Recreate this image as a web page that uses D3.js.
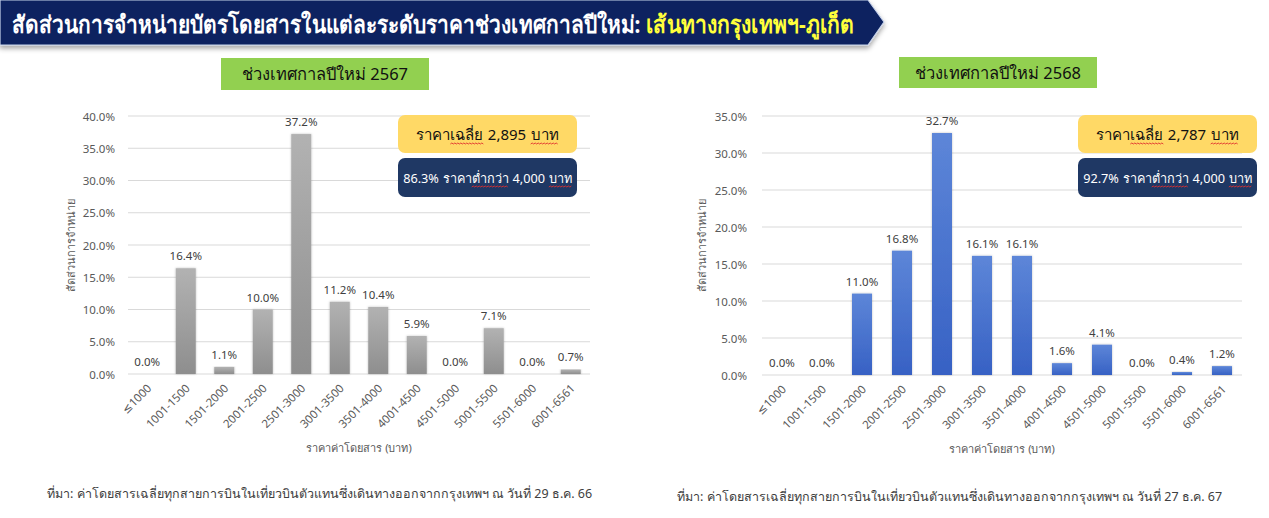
<!DOCTYPE html>
<html>
<head>
<meta charset="utf-8">
<script src="https://cdn.jsdelivr.net/npm/d3@7"></script>
<style>
  body { margin: 0; background: #fff; }
  svg { display: block; font-family: Tahoma, "Noto Sans", "DejaVu Sans", sans-serif; }
  .tick-y { font-size: 11.5px; fill: #595959; }
  .tick-x { font-size: 11.5px; fill: #595959; }
  .val { font-size: 11.5px; fill: #404040; }
  .axis-title { font-size: 11px; fill: #595959; }
  .note { font-size: 12.5px; fill: #404040; }
</style>
</head>
<body>
<div id="chart"></div>
<script>
// ---------- data ----------
const categories = ["≤1000", "1001-1500", "1501-2000", "2001-2500", "2501-3000", "3001-3500",
  "3501-4000", "4001-4500", "4501-5000", "5001-5500", "5501-6000", "6001-6561"];
const share2567 = [0.0, 16.4, 1.1, 10.0, 37.2, 11.2, 10.4, 5.9, 0.0, 7.1, 0.0, 0.7];
const share2568 = [0.0, 0.0, 11.0, 16.8, 32.7, 16.1, 16.1, 1.6, 4.1, 0.0, 0.4, 1.2];
const ticks2567 = [0, 5, 10, 15, 20, 25, 30, 35, 40];
const ticks2568 = [0, 5, 10, 15, 20, 25, 30, 35];

const pageTitle = "สัดส่วนการจำหน่ายบัตรโดยสารในแต่ละระดับราคาช่วงเทศกาลปีใหม่:";
const pageTitleRoute = "เส้นทางกรุงเทพฯ-ภูเก็ต";
const yTitle = "สัดส่วนการจำหน่าย";
const xTitle = "ราคาค่าโดยสาร (บาท)";

const width = 1269, height = 518;

const svg = d3.select("#chart").append("svg")
  .attr("width", width).attr("height", height);

const defs = svg.append("defs");

function grad(id, top, bottom) {
  const g = defs.append("linearGradient").attr("id", id)
    .attr("x1", 0).attr("y1", 0).attr("x2", 0).attr("y2", 1);
  g.append("stop").attr("offset", "0%").attr("stop-color", top);
  g.append("stop").attr("offset", "100%").attr("stop-color", bottom);
}
grad("greyBar", "#b2b2b2", "#8e8e8e");
grad("blueBar", "#5d86d8", "#3761c4");

const shadow = defs.append("filter").attr("id", "barShadow")
  .attr("x", "-30%").attr("y", "-10%").attr("width", "160%").attr("height", "130%");
shadow.append("feDropShadow").attr("dx", 0).attr("dy", 0).attr("stdDeviation", 1.2)
  .attr("flood-color", "#000").attr("flood-opacity", 0.25);

const bannerShadow = defs.append("filter").attr("id", "bannerShadow")
  .attr("x", "-5%").attr("y", "-20%").attr("width", "110%").attr("height", "160%");
bannerShadow.append("feDropShadow").attr("dx", 0).attr("dy", 3).attr("stdDeviation", 2.5)
  .attr("flood-color", "#000").attr("flood-opacity", 0.35);

// ---------- banner ----------
svg.append("path")
  .attr("d", "M0,0 L868,0 L884,22 L868,45 L0,45 Z")
  .attr("fill", "#0c2461")
  .attr("stroke", "#c9d3ea").attr("stroke-width", 1.2)
  .attr("filter", "url(#bannerShadow)");

// squeeze a text horizontally so it spans exactly [x0, x1]
function fitText(txt, color, x0, x1) {
  const t = svg.append("text")
    .style("font-size", "24px").style("font-weight", "bold")
    .attr("fill", color).text(txt);
  const w = t.node().getComputedTextLength();
  t.attr("transform", `translate(${x0},33) scale(${(x1 - x0) / w},1)`);
}
fitText(pageTitle, "#fff", 12, 636);
fitText(pageTitleRoute, "#ffff3b", 646, 853);

// red wavy "spell check" line under a text
function squiggle(parent, x0, x1, yb) {
  let d = `M${x0},${yb}`;
  let up = true;
  for (let xx = x0 + 1.5; xx <= x1; xx += 1.5) {
    d += ` L${xx},${yb + (up ? -1 : 0)}`;
    up = !up;
  }
  parent.append("path").attr("d", d).attr("fill", "none")
    .attr("stroke", "#e0302f").attr("stroke-width", 0.9);
}

// one centred line built from separate pieces, some with the wavy line
function richLine(parent, cx, y, pieces, size, fill, maxW) {
  const gap = size * 0.3;
  let fs = size;
  let items, total;
  const build = () => {
    parent.selectAll(".piece-tmp").remove();
    items = pieces.map((p) => parent.append("text").attr("class", "piece-tmp")
      .attr("x", 0).attr("y", y).style("font-size", fs + "px").attr("fill", fill).text(p.t));
    const widths = items.map((t) => t.node().getComputedTextLength());
    total = widths.reduce((a, b) => a + b, 0);
    pieces.forEach((p) => { if (p.space) total += gap * fs / size; });
    return widths;
  };
  let widths = build();
  if (total > maxW) { fs = fs * maxW / total; widths = build(); }
  let xx = cx - total / 2;
  items.forEach((t, i) => {
    t.attr("class", null).attr("x", xx);
    if (pieces[i].sq) squiggle(parent, xx, xx + widths[i], y + 4);
    xx += widths[i] + (pieces[i].space ? gap * fs / size : 0);
  });
}

// ---------- chart ----------
function drawChart(cfg) {
  const g = svg.append("g");

  const x = d3.scaleBand().domain(categories)
    .range([cfg.left, cfg.right]).paddingInner(cfg.pad).paddingOuter(cfg.pad / 2);
  const y = d3.scaleLinear().domain([0, d3.max(cfg.ticks)]).range([cfg.bottom, cfg.top]);

  // period label
  g.append("rect")
    .attr("x", cfg.tag[0]).attr("y", cfg.tag[1])
    .attr("width", cfg.tag[2]).attr("height", cfg.tag[3])
    .attr("fill", "#92d050");
  g.append("text")
    .attr("x", cfg.tag[0] + cfg.tag[2] / 2).attr("y", cfg.tag[1] + cfg.tag[3] / 2 + 6)
    .attr("text-anchor", "middle")
    .style("font-size", "16.5px").attr("fill", "#111")
    .text(cfg.tagText);

  // gridlines
  g.selectAll(".grid").data(cfg.ticks).enter().append("line")
    .attr("x1", cfg.left).attr("x2", cfg.right)
    .attr("y1", (d) => y(d)).attr("y2", (d) => y(d))
    .attr("stroke", "#d9d9d9").attr("stroke-width", 1);

  // y axis labels
  const yAxis = d3.axisLeft(y).tickValues(cfg.ticks)
    .tickFormat((d) => d.toFixed(1) + "%").tickSize(0).tickPadding(0);
  const ya = g.append("g").attr("transform", `translate(${cfg.yLabelX},0)`).call(yAxis);
  ya.select(".domain").remove();
  ya.attr("font-family", null).attr("font-size", null);
  ya.selectAll("text").attr("class", "tick-y").attr("dy", "0.35em")
    .attr("font-size", null).attr("fill", null);

  // bars
  g.selectAll(".bar").data(cfg.values).enter().append("rect")
    .attr("x", (d, i) => x(categories[i]))
    .attr("y", (d) => y(d))
    .attr("width", x.bandwidth())
    .attr("height", (d) => Math.max(0, cfg.bottom - y(d)))
    .attr("fill", `url(#${cfg.fill})`)
    .attr("filter", "url(#barShadow)");

  // value labels
  g.selectAll(".val").data(cfg.values).enter().append("text")
    .attr("class", "val")
    .attr("x", (d, i) => x(categories[i]) + x.bandwidth() / 2)
    .attr("y", (d) => y(d) - 8)
    .attr("text-anchor", "middle")
    .text((d) => d.toFixed(1) + "%");

  // x axis labels
  const xAxis = d3.axisBottom(x).tickSize(0).tickPadding(0);
  const xa = g.append("g").attr("transform", `translate(0,${cfg.bottom})`).call(xAxis);
  xa.select(".domain").remove();
  xa.attr("font-family", null).attr("font-size", null);
  xa.selectAll("text")
    .attr("class", "tick-x")
    .attr("font-size", null).attr("fill", null)
    .attr("text-anchor", "end")
    .attr("dy", null)
    .attr("transform", "translate(5,15) rotate(-45)");

  // axis titles
  g.append("text").attr("class", "axis-title")
    .attr("transform", `translate(${cfg.yTitleX},${(cfg.top + cfg.bottom) / 2}) rotate(-90)`)
    .attr("text-anchor", "middle")
    .text(yTitle);
  g.append("text").attr("class", "axis-title")
    .attr("x", (cfg.left + cfg.right) / 2).attr("y", cfg.bottom + 78)
    .attr("text-anchor", "middle")
    .text(xTitle);

  // info boxes
  const bx = cfg.box[0], bw = cfg.box[1];
  g.append("rect")
    .attr("x", bx).attr("y", 115).attr("width", bw).attr("height", 38)
    .attr("rx", 7).attr("fill", "#ffd966");
  richLine(g, bx + bw / 2, 140, [
    { t: "ราคา" }, { t: "เฉลี่ย", sq: true, space: true },
    { t: cfg.avg, space: true }, { t: "บาท", sq: true }
  ], 15, "#111", bw - 20);

  g.append("rect")
    .attr("x", bx).attr("y", 158).attr("width", bw).attr("height", 39)
    .attr("rx", 7).attr("fill", "#1f3864");
  richLine(g, bx + bw / 2, 183, [
    { t: cfg.below, space: true }, { t: "ราคา" }, { t: "ต่ำกว่า", sq: true, space: true },
    { t: "4,000", space: true }, { t: "บาท", sq: true }
  ], 13.5, "#fff", bw - 6);

  // source note
  g.append("text").attr("class", "note")
    .attr("x", cfg.noteX).attr("y", cfg.noteY)
    .text("ที่มา: ค่าโดยสารเฉลี่ยทุกสายการบินในเที่ยวบินตัวแทนซึ่งเดินทางออกจากกรุงเทพฯ ณ วันที่ " + cfg.date);
}

drawChart({
  values: share2567, ticks: ticks2567, fill: "greyBar",
  left: 128, right: 590, top: 116, bottom: 374, pad: 0.48,
  yLabelX: 115, yTitleX: 75,
  tag: [221, 58, 208, 32], tagText: "ช่วงเทศกาลปีใหม่ 2567",
  box: [398, 179], avg: "2,895", below: "86.3%",
  noteX: 47, noteY: 498, date: "29 ธ.ค. 66"
});

drawChart({
  values: share2568, ticks: ticks2568, fill: "blueBar",
  left: 762, right: 1242, top: 116, bottom: 375, pad: 0.5,
  yLabelX: 747, yTitleX: 706,
  tag: [899, 57, 198, 31], tagText: "ช่วงเทศกาลปีใหม่ 2568",
  box: [1078, 179], avg: "2,787", below: "92.7%",
  noteX: 677, noteY: 501, date: "27 ธ.ค. 67"
});
</script>
</body>
</html>
